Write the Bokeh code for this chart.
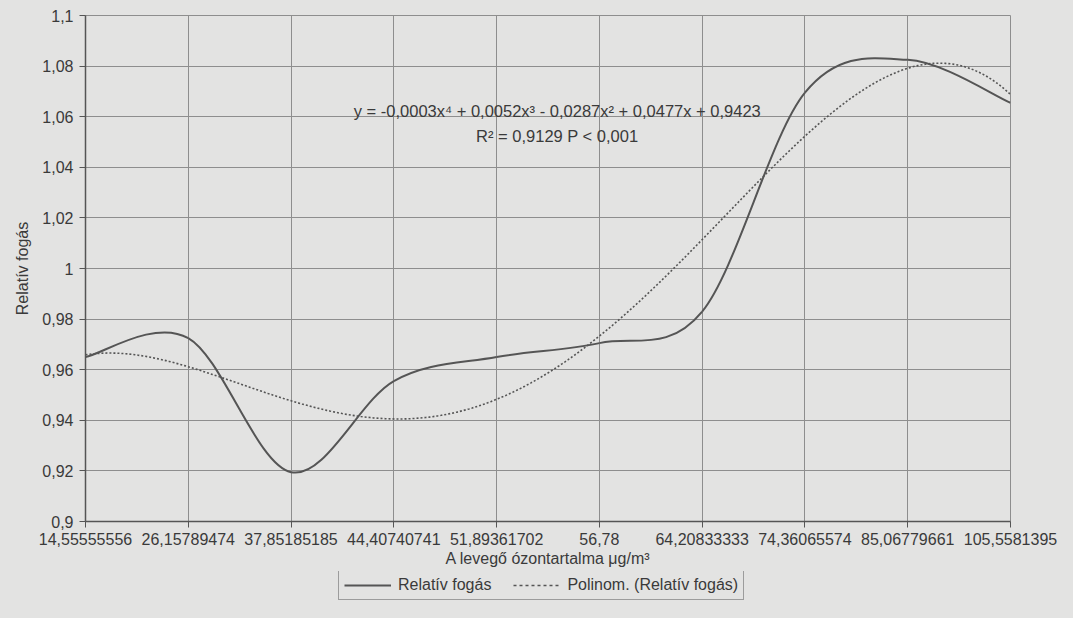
import numpy as np
from bokeh.plotting import figure
from bokeh.layouts import column
from bokeh.models import (Range1d, FixedTicker, CustomJSTickFormatter, Legend,
                          LegendItem, Label, ColumnDataSource)
from bokeh.embed import file_html
from bokeh.resources import INLINE

# ---- data -------------------------------------------------------------
categories = ["14,55555556", "26,15789474", "37,85185185", "44,40740741",
              "51,89361702", "56,78", "64,20833333", "74,36065574",
              "85,06779661", "105,5581395"]
relativ_fogas = [0.965, 0.9725, 0.9195, 0.9555, 0.965, 0.9705, 0.983,
                 1.0695, 1.0825, 1.0655]
y_ticks = [0.9, 0.92, 0.94, 0.96, 0.98, 1.0, 1.02, 1.04, 1.06, 1.08, 1.1]
equation = "y = -0,0003x\u2074 + 0,0052x\u00b3 - 0,0287x\u00b2 + 0,0477x + 0,9423"
r2_text = "R\u00b2 = 0,9129 P < 0,001"

# ---- styling ----------------------------------------------------------
BG = "#e3e3e2"
INK = "#3a3a3a"
LINE = "#555555"
GRID = "#8e8e8e"
FONT = "Liberation Sans"

xs = np.arange(1, len(categories) + 1, dtype=float)
ys = np.array(relativ_fogas)

p = figure(frame_width=925, frame_height=506, output_backend="svg", toolbar_location=None,
           x_range=Range1d(1, len(categories)), y_range=Range1d(0.9, 1.1),
           min_border_left=85, min_border_right=47, min_border_top=15,
           min_border_bottom=50, background_fill_color=BG, border_fill_color=BG,
           outline_line_color=GRID)

# smoothed line (Excel-like smoothing, Bezier through the data points)
n = len(xs)
x0s, y0s, x1s, y1s, cx0s, cy0s, cx1s, cy1s = ([] for _ in range(8))
for i in range(n - 1):
    pr = i - 1 if i > 0 else i
    nx = i + 2 if i + 2 < n else i + 1
    x0s.append(xs[i]); y0s.append(ys[i]); x1s.append(xs[i + 1]); y1s.append(ys[i + 1])
    cx0s.append(xs[i] + (xs[i + 1] - xs[pr]) / 6)
    cy0s.append(ys[i] + (ys[i + 1] - ys[pr]) / 6)
    cx1s.append(xs[i + 1] - (xs[nx] - xs[i]) / 6)
    cy1s.append(ys[i + 1] - (ys[nx] - ys[i]) / 6)
p.bezier(x0=x0s, y0=y0s, x1=x1s, y1=y1s, cx0=cx0s, cy0=cy0s, cx1=cx1s, cy1=cy1s,
         line_color=LINE, line_width=2)

# polynomial (4th order) trendline fitted to the data
coef = np.polyfit(xs, ys, 4)
tx = np.linspace(1, n, 300)
p.line(tx, np.polyval(coef, tx), line_color=LINE, line_width=1.6, line_dash="2 2")

# axes
p.xaxis.ticker = FixedTicker(ticks=list(xs))
p.xaxis.major_label_overrides = {int(v): c for v, c in zip(xs, categories)}
p.yaxis.ticker = FixedTicker(ticks=y_ticks)
p.yaxis.formatter = CustomJSTickFormatter(code="""
    let s = tick.toFixed(2);
    s = s.replace(/0+$/, '').replace(/\\.$/, '');
    return s.replace('.', ',');
""")
for ax in (p.xaxis[0], p.yaxis[0]):
    ax.axis_line_color = "#555555"
    ax.axis_line_width = 1.5
    ax.major_tick_line_color = "#555555"
    ax.major_tick_out = 6
    ax.major_tick_in = 0
    ax.minor_tick_line_color = None
    ax.major_label_text_font = FONT
    ax.major_label_text_font_size = "16px"
    ax.major_label_text_color = INK
    ax.axis_label_text_font = FONT
    ax.axis_label_text_font_size = "16px"
    ax.axis_label_text_font_style = "normal"
    ax.axis_label_text_color = INK
p.xaxis.axis_label = "A levegő ózontartalma μg/m³"
p.yaxis.axis_label = "Relatív fogás"
p.xaxis.major_label_standoff = 5
p.xaxis.axis_label_standoff = 2
p.yaxis.major_label_standoff = 6
p.yaxis.axis_label_standoff = 8

p.xgrid.grid_line_color = GRID
p.ygrid.grid_line_color = GRID
p.xgrid.grid_line_width = 1
p.ygrid.grid_line_width = 1

# equation labels
p.add_layout(Label(x=5.59, y=1.0623, text=equation, text_align="center",
                   text_baseline="middle", text_font=FONT, text_font_size="16.5px",
                   text_color=INK))
p.add_layout(Label(x=5.59, y=1.0524, text=r2_text, text_align="center",
                   text_baseline="middle", text_font=FONT, text_font_size="16.5px",
                   text_color=INK))

# ---- legend strip below the chart --------------------------------------
lg = figure(frame_width=925, height=32, output_backend="svg", toolbar_location=None,
            x_range=Range1d(0, 1), y_range=Range1d(0, 1), min_border=0,
            min_border_left=85, min_border_right=47,
            x_axis_type=None, y_axis_type=None, outline_line_color=None,
            background_fill_color=None, border_fill_color=BG)
lg.xgrid.visible = False
lg.ygrid.visible = False
proxy = ColumnDataSource(data=dict(x=[-10, -9], y=[0, 0]))
d1 = lg.line("x", "y", source=proxy, line_color=LINE, line_width=2)
d2 = lg.line("x", "y", source=proxy, line_color=LINE, line_width=1.6, line_dash="3 3")
legend = Legend(items=[LegendItem(label="Relatív fogás", renderers=[d1]),
                       LegendItem(label="Polinom. (Relatív fogás)", renderers=[d2])],
                orientation="horizontal", location=(253, 3),
                border_line_color="#555555", border_line_width=1.2,
                background_fill_color=BG, background_fill_alpha=1,
                label_text_font=FONT, label_text_font_size="16px",
                label_text_color=INK, glyph_width=47, glyph_height=16,
                spacing=22, padding=5, margin=0, label_standoff=7)
lg.add_layout(legend, "center")

html = file_html(column(p, lg, spacing=0), INLINE)
html = html.replace("</head>",
                    "<style>html, body { background-color: %s; }</style></head>" % BG, 1)
open("out.html", "w").write(html)
